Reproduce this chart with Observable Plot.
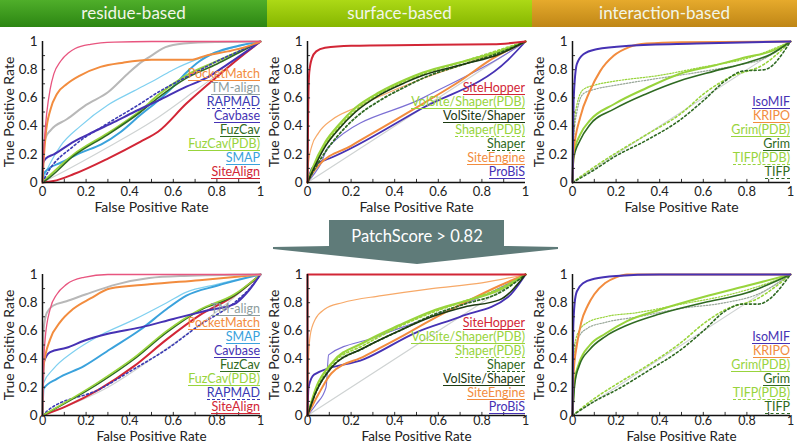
<!DOCTYPE html>
<html><head><meta charset="utf-8">
<script src="https://cdn.jsdelivr.net/npm/d3@7"></script>
<script src="https://cdn.jsdelivr.net/npm/@observablehq/plot@0.6"></script>
<style>
body{margin:0;background:#fff;font-family:Lato,sans-serif;}
#root{position:relative;width:799px;height:447px;overflow:hidden;background:#fff;}
.hdr{position:absolute;top:0;height:27px;color:#f2f6e8;font-size:17px;text-align:center;line-height:26px;}
.panel{position:absolute;}
.legend{position:absolute;text-align:right;font-size:12.5px;}
.legend div{height:14px;line-height:12px;}
.legend span{display:inline-block;border-bottom-width:1.5px;border-bottom-style:solid;}
</style></head>
<body><div id="root"></div>
<script>
// ---------- headers / tick values ----------
const headers = ["residue-based", "surface-based", "interaction-based"];
const tickLabels = [0, 0.2, 0.4, 0.6, 0.8, 1];
const minorTicks = [0.1, 0.2, 0.3, 0.4, 0.5, 0.6, 0.7, 0.8, 0.9];
const xTitle = "False Positive Rate";
const yTitle = "True Positive Rate";
const arrowText = "PatchScore > 0.82";

// ---------- panel 1: residue-based (all) ----------
const r1_pink = [[0,0],[0.005,0.2],[0.01,0.33],[0.02,0.5],[0.035,0.66],[0.052,0.77],[0.083,0.86],[0.12,0.92],[0.15,0.95],[0.22,0.98],[0.33,0.995],[0.5,1],[1,1]];
const r1_pocketmatch = [[0,0],[0.005,0.15],[0.014,0.33],[0.037,0.52],[0.067,0.63],[0.113,0.7],[0.174,0.76],[0.266,0.82],[0.37,0.85],[0.5,0.87],[0.68,0.87],[0.75,0.9],[0.85,0.93],[0.93,0.96],[1,1]];
const r1_tmalign = [[0,0],[0.005,0.25],[0.015,0.32],[0.037,0.37],[0.113,0.45],[0.2,0.55],[0.3,0.64],[0.39,0.77],[0.45,0.85],[0.5,0.9],[0.55,0.95],[0.62,0.98],[0.75,0.995],[1,1]];
const r1_gray2 = [[0,0],[0.1,0.08],[0.3,0.25],[0.5,0.43],[0.7,0.65],[0.85,0.82],[1,1]];
const r1_smap2 = [[0,0],[0.01,0.05],[0.04,0.15],[0.083,0.26],[0.174,0.4],[0.3,0.55],[0.42,0.65],[0.53,0.74],[0.6,0.8],[0.72,0.88],[0.88,0.96],[1,1]];
const r1_smap = [[0,0],[0.005,0.06],[0.03,0.1],[0.083,0.14],[0.174,0.21],[0.27,0.27],[0.36,0.36],[0.45,0.48],[0.53,0.58],[0.6,0.68],[0.66,0.78],[0.72,0.86],[0.79,0.92],[0.9,0.97],[1,1]];
const r1_cavbase = [[0,0],[0.003,0.14],[0.015,0.17],[0.052,0.2],[0.144,0.29],[0.235,0.36],[0.33,0.43],[0.42,0.5],[0.53,0.58],[0.66,0.68],[0.75,0.74],[0.85,0.84],[1,1]];
const r1_rapmad = [[0,0],[0.02,0.06],[0.144,0.26],[0.3,0.42],[0.45,0.56],[0.53,0.64],[0.6,0.7],[0.7,0.78],[0.8,0.86],[0.9,0.93],[1,1]];
const r1_fuzcav = [[0,0],[0.02,0.02],[0.144,0.19],[0.3,0.34],[0.45,0.5],[0.53,0.6],[0.66,0.74],[0.8,0.84],[0.9,0.92],[1,1]];
const r1_fuzcavpdb = [[0,0],[0.02,0.03],[0.144,0.2],[0.3,0.35],[0.45,0.51],[0.53,0.62],[0.66,0.76],[0.8,0.86],[1,1]];
const r1_sitealign = [[0,0],[0.05,0.01],[0.144,0.06],[0.3,0.17],[0.45,0.29],[0.53,0.36],[0.66,0.56],[0.8,0.75],[0.9,0.88],[1,1]];

// ---------- panel 2: surface-based (all) ----------
const s1_sitehopper = [[0,0],[0.003,0.5],[0.008,0.78],[0.02,0.88],[0.04,0.93],[0.08,0.955],[0.2,0.97],[0.5,0.975],[0.85,0.98],[1,1]];
const s1_probis = [[0,0],[0.02,0.1],[0.05,0.14],[0.1,0.17],[0.53,0.53],[0.92,0.87],[1,1]];
const s1_probis2 = [[0,0],[0.03,0.06],[0.06,0.13],[0.09,0.24],[0.1,0.26],[0.53,0.6],[0.9,0.9],[1,1]];
const s1_diag = [[0,0],[1,1]];
const s1_siteengine = [[0,0],[0.02,0.06],[0.05,0.12],[0.2,0.26],[0.4,0.44],[0.53,0.56],[0.7,0.72],[0.85,0.88],[1,1]];
const s1_siteengine2 = [[0,0],[0.005,0.15],[0.02,0.26],[0.05,0.35],[0.117,0.45],[0.22,0.53],[0.33,0.61],[0.5,0.72],[0.7,0.83],[0.9,0.94],[1,1]];
const s1_volsite = [[0,0],[0.02,0.07],[0.083,0.26],[0.144,0.38],[0.22,0.5],[0.33,0.62],[0.45,0.71],[0.53,0.76],[0.72,0.84],[0.88,0.91],[1,1]];
const s1_volsitepdb = [[0,0],[0.02,0.09],[0.083,0.29],[0.144,0.41],[0.22,0.53],[0.33,0.64],[0.45,0.73],[0.53,0.78],[0.72,0.86],[0.88,0.93],[1,1]];
const s1_shaperpdb = [[0,0],[0.02,0.08],[0.083,0.27],[0.144,0.39],[0.22,0.51],[0.33,0.63],[0.45,0.72],[0.53,0.77],[0.72,0.86],[0.88,0.94],[1,1]];
const s1_shaper = [[0,0],[0.02,0.06],[0.083,0.22],[0.144,0.34],[0.22,0.46],[0.33,0.58],[0.45,0.68],[0.53,0.74],[0.72,0.84],[0.88,0.92],[1,1]];

// ---------- panel 3: interaction-based (all) ----------
const i1_isomif = [[0,0],[0.005,0.58],[0.02,0.84],[0.05,0.91],[0.11,0.945],[0.26,0.97],[0.57,0.985],[1,1]];
const i1_kripo = [[0,0],[0.005,0.22],[0.035,0.46],[0.08,0.65],[0.127,0.79],[0.19,0.9],[0.26,0.96],[0.34,0.985],[0.5,0.995],[1,1]];
const i1_grimpdb = [[0,0],[0.005,0.2],[0.035,0.34],[0.08,0.44],[0.19,0.555],[0.34,0.67],[0.49,0.77],[0.65,0.83],[0.8,0.89],[0.91,0.93],[1,1]];
const i1_grim = [[0,0],[0.005,0.17],[0.035,0.3],[0.08,0.41],[0.19,0.52],[0.34,0.63],[0.49,0.72],[0.65,0.79],[0.8,0.85],[0.91,0.91],[1,1]];
const i1_grimpdb2 = [[0,0],[0.005,0.35],[0.02,0.55],[0.05,0.66],[0.1,0.69],[0.2,0.72],[0.4,0.76],[0.6,0.82],[0.8,0.88],[1,1]];
const i1_grim2 = [[0,0],[0.005,0.3],[0.02,0.5],[0.05,0.63],[0.1,0.66],[0.2,0.69],[0.4,0.74],[0.57,0.78],[0.75,0.83],[0.88,0.88],[1,1]];
const i1_tifppdb = [[0,0],[0.1,0.11],[0.19,0.2],[0.34,0.34],[0.49,0.48],[0.62,0.65],[0.72,0.745],[0.88,0.84],[1,1]];
const i1_tifp = [[0,0],[0.1,0.09],[0.19,0.18],[0.34,0.3],[0.49,0.44],[0.6,0.58],[0.7,0.72],[0.78,0.79],[0.88,0.8],[1,1]];
const i1_diag = [[0,0],[1,1]];

// ---------- panel 4: residue-based (PatchScore > 0.82) ----------
const r2_pink = [[0,0],[0.005,0.35],[0.012,0.54],[0.035,0.755],[0.066,0.86],[0.11,0.93],[0.19,0.98],[0.3,1],[1,1]];
const r2_tmalign = [[0,0],[0.005,0.61],[0.02,0.73],[0.05,0.78],[0.11,0.81],[0.2,0.86],[0.34,0.93],[0.49,0.975],[0.65,0.99],[1,1]];
const r2_pocketmatch = [[0,0],[0.005,0.35],[0.035,0.54],[0.08,0.66],[0.14,0.755],[0.22,0.83],[0.31,0.9],[0.49,0.93],[0.72,0.96],[1,1]];
const r2_smap2 = [[0,0],[0.005,0.23],[0.05,0.33],[0.14,0.45],[0.26,0.565],[0.42,0.68],[0.57,0.8],[0.66,0.875],[0.8,0.93],[1,1]];
const r2_smap = [[0,0],[0.005,0.19],[0.066,0.26],[0.19,0.35],[0.31,0.47],[0.45,0.61],[0.57,0.755],[0.66,0.85],[0.8,0.92],[1,1]];
const r2_cavbase = [[0,0],[0.005,0.375],[0.035,0.45],[0.11,0.48],[0.19,0.53],[0.3,0.58],[0.45,0.625],[0.6,0.685],[0.755,0.745],[0.88,0.79],[0.94,0.875],[1,1]];
const r2_fuzcav = [[0,0],[0.26,0.23],[0.42,0.4],[0.57,0.59],[0.72,0.745],[0.88,0.85],[1,1]];
const r2_fuzcavpdb = [[0,0],[0.26,0.24],[0.42,0.41],[0.57,0.6],[0.72,0.75],[0.88,0.86],[1,1]];
const r2_rapmad = [[0,0],[0.02,0.03],[0.26,0.185],[0.42,0.33],[0.57,0.47],[0.72,0.64],[0.88,0.8],[0.95,0.9],[1,1]];
const r2_sitealign = [[0,0],[0.11,0.066],[0.26,0.185],[0.42,0.35],[0.57,0.54],[0.72,0.71],[0.88,0.85],[1,1]];
const r2_gray2 = [[0,0],[0.3,0.2],[0.5,0.4],[0.7,0.62],[0.85,0.8],[1,1]];

// ---------- panel 5: surface-based (PatchScore > 0.82) ----------
const s2_sitehopper = [[0,0],[0,1],[1,1]];
const s2_siteengine2 = [[0,0],[0.002,0.3],[0.005,0.42],[0.012,0.565],[0.035,0.68],[0.08,0.755],[0.16,0.8],[0.34,0.85],[0.57,0.9],[0.8,0.94],[1,1]];
const s2_probis = [[0,0],[0.005,0.2],[0.03,0.29],[0.26,0.4],[0.5,0.59],[0.7,0.7],[0.92,0.84],[1,1]];
const s2_probis2 = [[0,0],[0.04,0.08],[0.085,0.2],[0.097,0.43],[0.3,0.55],[0.6,0.72],[0.85,0.88],[1,1]];
const s2_diag = [[0,0],[1,1]];
const s2_volsitepdb = [[0,0],[0.04,0.2],[0.11,0.37],[0.26,0.52],[0.42,0.64],[0.57,0.74],[0.72,0.81],[0.88,0.89],[1,1]];
const s2_shaperpdb = [[0,0],[0.04,0.19],[0.11,0.36],[0.26,0.5],[0.42,0.63],[0.57,0.73],[0.72,0.81],[0.88,0.9],[1,1]];
const s2_shaper = [[0,0],[0.04,0.17],[0.11,0.34],[0.26,0.48],[0.42,0.6],[0.57,0.71],[0.72,0.79],[0.88,0.87],[1,1]];
const s2_volsite = [[0,0],[0.04,0.17],[0.11,0.34],[0.26,0.48],[0.42,0.6],[0.57,0.7],[0.72,0.77],[0.88,0.82],[1,1]];
const s2_siteengine = [[0,0],[0.05,0.15],[0.11,0.3],[0.26,0.42],[0.42,0.55],[0.57,0.68],[0.72,0.8],[0.88,0.92],[1,1]];

// ---------- panel 6: interaction-based (PatchScore > 0.82) ----------
const i2_isomif = [[0,0],[0.003,0.6],[0.01,0.8],[0.02,0.88],[0.05,0.94],[0.1,0.97],[0.2,0.99],[0.4,1],[1,1]];
const i2_kripo = [[0,0],[0.005,0.3],[0.02,0.5],[0.04,0.66],[0.07,0.78],[0.1,0.86],[0.15,0.94],[0.2,0.98],[0.25,1],[1,1]];
const i2_grimpdb = [[0,0],[0.01,0.25],[0.03,0.37],[0.08,0.5],[0.15,0.58],[0.25,0.67],[0.4,0.75],[0.6,0.84],[0.8,0.92],[1,1]];
const i2_grim = [[0,0],[0.01,0.22],[0.03,0.35],[0.08,0.47],[0.15,0.56],[0.25,0.64],[0.4,0.72],[0.6,0.8],[0.8,0.87],[1,1]];
const i2_grimpdb2 = [[0,0],[0.003,0.3],[0.01,0.5],[0.03,0.6],[0.07,0.66],[0.15,0.7],[0.3,0.73],[0.5,0.79],[0.7,0.85],[0.9,0.94],[1,1]];
const i2_grim2 = [[0,0],[0.003,0.28],[0.01,0.45],[0.03,0.56],[0.07,0.62],[0.15,0.66],[0.3,0.7],[0.5,0.76],[0.7,0.8],[0.85,0.86],[1,1]];
const i2_tifppdb = [[0,0],[0.1,0.12],[0.2,0.22],[0.35,0.36],[0.5,0.52],[0.6,0.65],[0.7,0.75],[0.85,0.83],[1,1]];
const i2_tifp = [[0,0],[0.1,0.1],[0.2,0.18],[0.35,0.32],[0.5,0.47],[0.6,0.6],[0.7,0.74],[0.78,0.79],[0.85,0.79],[1,1]];
const i2_diag = [[0,0],[1,1]];

// ---------- styles ----------
const C = {
  pink:"#e8557f", orange:"#f28c3e", orangeL:"#f7a968", gray:"#b8b8b8", grayL:"#cfd3d3",
  sky:"#7fd0f0", blue:"#3aa2dc", purple:"#4632b4", purpleL:"#7c70d4", rap:"#3a3ab4",
  dgreen:"#2f6a22", lgreen:"#98d43c", black:"#1c3a12", red:"#d22636", grim2:"#9aa89a"
};
const S = (data, color, w = 2, dash = null) => ({data, color, w, dash});

const TOP = {h:190, mb:38, tp:4, xdy:20, fs:13, tfs:14, lg:9};
const BOT = {h:184, mb:32, tp:1, xdy:16, fs:12.5, tfs:13.5, lg:7};

const panels = [
  { ...TOP, left:0, top:30,
    curves:[S(r1_gray2,C.grayL,1.2),S(r1_smap2,C.sky,1.2),S(r1_sitealign,C.red,2),S(r1_smap,C.blue,2),S(r1_fuzcavpdb,C.lgreen,2),S(r1_fuzcav,C.dgreen,1.6),
            S(r1_rapmad,C.rap,1.6,"2,2.5"),S(r1_cavbase,C.purple,2),S(r1_tmalign,C.gray,2),S(r1_pocketmatch,C.orange,2),S(r1_pink,C.pink,1.3)],
    legend:[["PocketMatch",C.orange],["TM-align","#8e9e9e"],["RAPMAD",C.rap,1],["Cavbase",C.purple],["FuzCav",C.dgreen],["FuzCav(PDB)",C.lgreen],["SMAP",C.blue],["SiteAlign",C.red]] },
  { ...TOP, left:265, top:30,
    curves:[S(s1_diag,C.grayL,1.2),S(s1_probis2,C.purpleL,1.2),S(s1_siteengine2,C.orangeL,1.2),S(s1_probis,C.purple,1.8),S(s1_siteengine,C.orange,2),
            S(s1_volsitepdb,C.lgreen,2.2),S(s1_shaperpdb,C.lgreen,1.8,"2,2.5"),S(s1_shaper,C.dgreen,1.8,"2,2.5"),S(s1_volsite,C.black,1.6),S(s1_sitehopper,C.red,2)],
    legend:[["SiteHopper",C.red],["VolSite/Shaper(PDB)",C.lgreen],["VolSite/Shaper",C.black],["Shaper(PDB)",C.lgreen,1],["Shaper",C.dgreen,1],["SiteEngine",C.orange],["ProBiS",C.purple]] },
  { ...TOP, left:530, top:30,
    curves:[S(i1_diag,C.grayL,1.2),S(i1_grim2,C.grim2,1.2,"1.5,1.5"),S(i1_grimpdb2,C.lgreen,1.2,"1.5,1.5"),S(i1_tifppdb,C.lgreen,1.6,"2,2.5"),S(i1_tifp,C.dgreen,1.6,"2,2.5"),
            S(i1_grimpdb,C.lgreen,2),S(i1_grim,C.dgreen,1.6),S(i1_kripo,C.orange,2),S(i1_isomif,C.purple,2)],
    legend:[["IsoMIF",C.purple],["KRIPO",C.orange],["Grim(PDB)",C.lgreen],["Grim",C.dgreen],["TIFP(PDB)",C.lgreen,1],["TIFP",C.dgreen,1]] },
  { ...BOT, left:0, top:263,
    curves:[S(r2_gray2,C.grayL,1.2),S(r2_smap2,C.sky,1.2),S(r2_sitealign,C.red,2),S(r2_rapmad,C.rap,1.6,"2,2.5"),S(r2_fuzcav,C.dgreen,1.6),S(r2_fuzcavpdb,C.lgreen,1.6),
            S(r2_smap,C.blue,2),S(r2_cavbase,C.purple,2),S(r2_pocketmatch,C.orange,2),S(r2_tmalign,C.gray,2),S(r2_pink,C.pink,1.3)],
    legend:[["TM-align","#8e9e9e"],["PocketMatch",C.orange],["SMAP",C.blue],["Cavbase",C.purple],["FuzCav",C.dgreen],["FuzCav(PDB)",C.lgreen],["RAPMAD",C.rap,1],["SiteAlign",C.red]] },
  { ...BOT, left:265, top:263,
    curves:[S(s2_diag,C.grayL,1.2),S(s2_probis2,C.purpleL,1.2),S(s2_siteengine2,C.orangeL,1.2),S(s2_probis,C.purple,1.8),S(s2_siteengine,C.orange,2),
            S(s2_volsitepdb,C.lgreen,2.2),S(s2_shaperpdb,C.lgreen,1.8,"2,2.5"),S(s2_shaper,C.dgreen,1.8,"2,2.5"),S(s2_volsite,C.black,1.6),S(s2_sitehopper,C.red,2)],
    legend:[["SiteHopper",C.red],["VolSite/Shaper(PDB)",C.lgreen],["Shaper(PDB)",C.lgreen,1],["Shaper",C.dgreen,1],["VolSite/Shaper",C.black],["SiteEngine",C.orange],["ProBiS",C.purple]] },
  { ...BOT, left:530, top:263,
    curves:[S(i2_diag,C.grayL,1.2),S(i2_grim2,C.grim2,1.2,"1.5,1.5"),S(i2_grimpdb2,C.lgreen,1.2,"1.5,1.5"),S(i2_tifppdb,C.lgreen,1.6,"2,2.5"),S(i2_tifp,C.dgreen,1.6,"2,2.5"),
            S(i2_grimpdb,C.lgreen,2),S(i2_grim,C.dgreen,1.6),S(i2_kripo,C.orange,2),S(i2_isomif,C.purple,2)],
    legend:[["IsoMIF",C.purple],["KRIPO",C.orange],["Grim(PDB)",C.lgreen],["Grim",C.dgreen],["TIFP(PDB)",C.lgreen,1],["TIFP",C.dgreen,1]] }
];

const root = document.getElementById("root");

// header bands
const hdrGrad = [["#4fae2a","#2c8612"],["#acd916","#86b600"],["#e6aa2c","#bf8616"]];
const hdrX = [[0,267],[267,532],[532,797]];
headers.forEach((t,i)=>{
  const d = document.createElement("div");
  d.className = "hdr";
  d.style.left = hdrX[i][0]+"px"; d.style.width = (hdrX[i][1]-hdrX[i][0])+"px";
  d.style.background = `linear-gradient(${hdrGrad[i][0]}, ${hdrGrad[i][1]})`;
  d.textContent = t;
  root.appendChild(d);
});

const fmt = d => d === 0 ? "0" : d === 1 ? "1" : d3.format(".1f")(d);

panels.forEach(p => {
  const plot = Plot.plot({
    width: 265, height: p.h,
    marginLeft: 42, marginRight: 5, marginTop: 11, marginBottom: p.mb,
    style: {fontFamily: "Lato, sans-serif", color: "#222", background: "transparent", overflow: "visible"},
    x: {domain: [0, 1]}, y: {domain: [0, 1]},
    marks: [
      ...p.curves.map(c => Plot.line(c.data, {x: d => d[0], y: d => d[1], stroke: c.color, strokeWidth: c.w, strokeDasharray: c.dash, curve: "monotone-x"})),
      Plot.ruleX(minorTicks, {x: d => d, y1: 0, y2: 0.022, stroke: "#333", strokeWidth: 1}),
      Plot.ruleY(minorTicks, {y: d => d, x1: 0, x2: 0.014, stroke: "#333", strokeWidth: 1}),
      Plot.ruleX([0], {stroke: "#111", strokeWidth: 1.5}),
      Plot.ruleY([0], {stroke: "#111", strokeWidth: 1.5}),
      Plot.axisX(tickLabels, {tickSize: 0, tickPadding: p.tp, tickFormat: fmt, fontSize: p.fs, fill: "#222", label: null}),
      Plot.axisY(tickLabels, {tickSize: 0, tickPadding: 5, tickFormat: fmt, fontSize: 13.5, fill: "#222", label: null}),
      Plot.text([xTitle], {text: d => d, frameAnchor: "bottom", dy: p.xdy, lineAnchor: "top", textAnchor: "middle", fontSize: p.tfs, fill: "#222"}),
      Plot.text([yTitle], {text: d => d, frameAnchor: "left", dx: -38, rotate: -90, lineAnchor: "top", textAnchor: "middle", fontSize: 14, fill: "#222"})
    ]
  });
  const wrap = document.createElement("div");
  wrap.className = "panel";
  wrap.style.left = p.left + "px"; wrap.style.top = p.top + "px";
  wrap.appendChild(plot);
  root.appendChild(wrap);

  // legend
  const lg = document.createElement("div");
  lg.className = "legend";
  const frameBottom = p.top + 11 + 141;
  const lastCenter = frameBottom - p.lg;
  lg.style.top = (lastCenter - 7 - 14 * (p.legend.length - 1)) + "px";
  lg.style.right = (799 - (p.left + 260)) + "px";
  p.legend.forEach(([name, color, dashed]) => {
    const row = document.createElement("div");
    const sp = document.createElement("span");
    sp.textContent = name;
    sp.style.color = color;
    sp.style.borderBottomColor = color;
    if (dashed) sp.style.borderBottomStyle = "dashed";
    row.appendChild(sp);
    lg.appendChild(row);
  });
  root.appendChild(lg);
});

// arrow
const svgNS = "http://www.w3.org/2000/svg";
const asvg = document.createElementNS(svgNS, "svg");
asvg.setAttribute("width", 799); asvg.setAttribute("height", 447);
asvg.style.position = "absolute"; asvg.style.left = "0"; asvg.style.top = "0"; asvg.style.pointerEvents = "none";
const poly = document.createElementNS(svgNS, "polygon");
poly.setAttribute("points", "329,220 504,220 504,246 558,247 558,249 417,264 273,249 273,247 329,246");
poly.setAttribute("fill", "#5f7b79");
asvg.appendChild(poly);
const at = document.createElementNS(svgNS, "text");
at.setAttribute("x", 417); at.setAttribute("y", 238); at.setAttribute("text-anchor", "middle");
at.setAttribute("dominant-baseline", "middle");
at.setAttribute("fill", "#ffffff"); at.setAttribute("font-size", "16.5px"); at.setAttribute("font-family", "Lato, sans-serif");
at.textContent = arrowText;
asvg.appendChild(at);
root.appendChild(asvg);
</script>
</body></html>
